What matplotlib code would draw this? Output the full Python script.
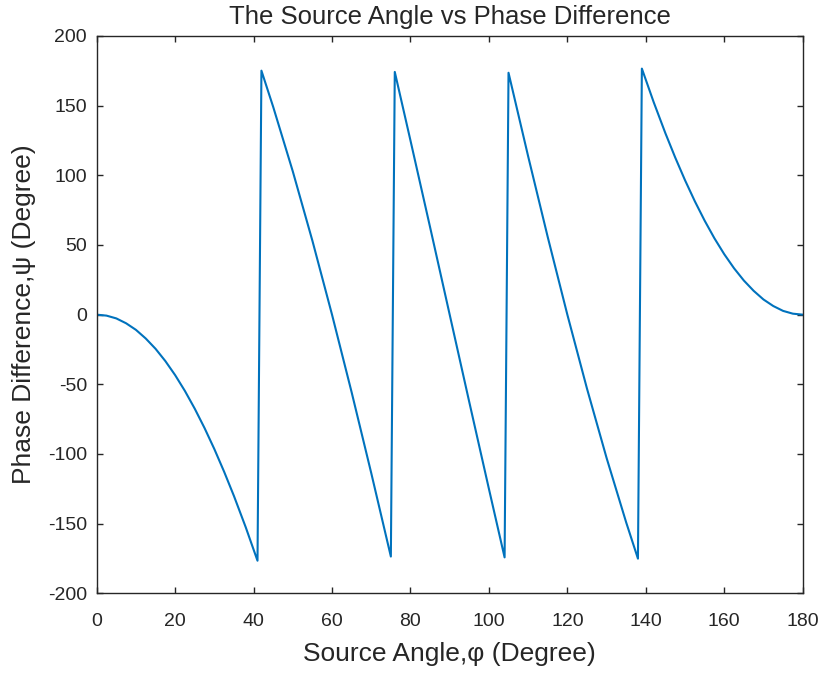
import matplotlib
matplotlib.use("Agg")
import matplotlib.pyplot as plt

# source angle (degree) and wrapped phase difference (degree)
angle = [0, 2.5, 5, 7.5, 10, 12.5, 15, 17.5, 20, 22.5, 25, 27.5, 30, 32.5, 35, 38, 41,
         42, 45, 50, 55, 60, 65, 70, 75,
         76, 80, 85, 90, 95, 100, 104,
         105, 110, 115, 120, 125, 130, 135, 138,
         139, 142, 145, 147.5, 150, 152.5, 155, 157.5, 160, 162.5, 165, 167.5, 170,
         172.5, 175, 177.5, 180]
phase = [0, -0.7, -2.7, -6.2, -10.9, -17.1, -24.5, -33.3, -43.4, -54.8, -67.5, -81.4,
         -96.5, -112.8, -130.2, -152.6, -176.6,
         175.1, 149.1, 102.8, 53.0, 0.0, -55.7, -113.7, -173.6,
         174.2, 125.0, 62.8, 0.0, -62.8, -125.0, -174.2,
         173.6, 113.7, 55.7, 0.0, -53.0, -102.8, -149.1, -175.1,
         176.6, 152.6, 130.2, 112.8, 96.5, 81.4, 67.5, 54.8, 43.4, 33.3, 24.5, 17.1, 10.9,
         6.2, 2.7, 0.7, 0]

x_ticks = [0, 20, 40, 60, 80, 100, 120, 140, 160, 180]
y_ticks = [-200, -150, -100, -50, 0, 50, 100, 150, 200]

plt.rcParams['font.family'] = ['Liberation Sans', 'DejaVu Sans']
plt.rcParams['axes.unicode_minus'] = False
text_color = '#262626'

fig = plt.figure(figsize=(8.23, 6.75), dpi=100)
ax = fig.add_axes([0.1175, 0.121, 0.8578, 0.8257])

ax.plot(angle, phase, color='#0072BD', linewidth=1.5)

ax.set_xlim(0, 180)
ax.set_ylim(-200, 200)
ax.set_xticks(x_ticks)
ax.set_yticks(y_ticks)
ax.tick_params(direction='in', length=4.5, width=1, colors=text_color,
               labelsize=14, top=True, right=True)
ax.tick_params(axis='x', pad=14.5)
ax.tick_params(axis='y', pad=7)
for s in ax.spines.values():
    s.set_color(text_color)
    s.set_linewidth(1)

ax.set_title('The Source Angle vs Phase Difference', fontsize=18.5, color=text_color, pad=8.5)
ax.set_xlabel('Source Angle,φ (Degree)', fontsize=19, color=text_color, labelpad=8.5)
ax.set_ylabel('Phase Difference,ψ (Degree)', fontsize=19, color=text_color, labelpad=8.5)

fig.savefig('out.png', dpi=100)
